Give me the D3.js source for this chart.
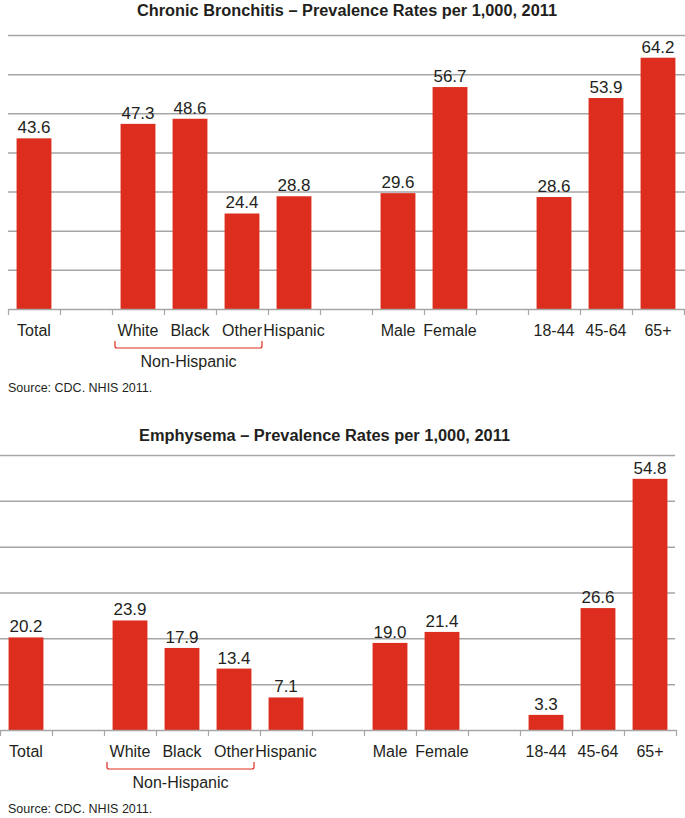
<!DOCTYPE html>
<html>
<head>
<meta charset="utf-8">
<script src="https://cdn.jsdelivr.net/npm/d3@7"></script>
<style>
  html, body { margin: 0; padding: 0; background: #fff; }
  svg { display: block; }
  text { font-family: "Liberation Sans", Arial, Helvetica, sans-serif; fill: #231f20; }
</style>
</head>
<body>
<svg id="chart" width="685" height="818"></svg>
<script>
// ---- DATA ----
const slots = ["Total", "", "White", "Black", "Other", "Hispanic", "", "Male", "Female", "", "18-44", "45-64", "65+"];
const categories = ["Total", "White", "Black", "Other", "Hispanic", "Male", "Female", "18-44", "45-64", "65+"];
const bronchitisValues = [43.6, 47.3, 48.6, 24.4, 28.8, 29.6, 56.7, 28.6, 53.9, 64.2];
const emphysemaValues = [20.2, 23.9, 17.9, 13.4, 7.1, 19.0, 21.4, 3.3, 26.6, 54.8];
const bronchitisTicks = [0, 10, 20, 30, 40, 50, 60, 70];
const emphysemaTicks = [0, 10, 20, 30, 40, 50, 60];
const titles = ["Chronic Bronchitis \u2013 Prevalence Rates per 1,000, 2011", "Emphysema \u2013 Prevalence Rates per 1,000, 2011"];
const bracketLabel = "Non-Hispanic";
const bracketFrom = "White", bracketTo = "Other";
const sourceText = "Source: CDC. NHIS 2011.";

const svg = d3.select("#chart");
const RED = "#dc2d1e";
const GRID = "#a6a6a6";

function drawPanel(cfg) {
  const g = svg.append("g");
  const slotIdx = d3.range(slots.length);
  const x = d3.scaleBand().domain(slotIdx).range([cfg.x0, cfg.x1]).paddingInner(0.33).paddingOuter(0.165);
  const xEdge = d3.scaleLinear().domain([0, slots.length]).range([cfg.x0, cfg.x1]);
  const y = d3.scaleLinear().domain([0, d3.max(cfg.ticks)]).range([cfg.base, cfg.top]);
  const catIndex = c => slots.indexOf(c);

  // title
  g.append("text")
    .attr("x", cfg.titleX).attr("y", cfg.titleY)
    .attr("font-size", 16).attr("font-weight", "bold")
    .attr("textLength", cfg.titleW).attr("lengthAdjust", "spacingAndGlyphs")
    .text(cfg.title);

  // gridlines
  const grid = g.append("g").attr("transform", `translate(${cfg.x0},0)`)
    .call(d3.axisLeft(y).tickValues(cfg.ticks.filter(t => t > 0)).tickSize(-(cfg.gridEnd - cfg.x0)).tickFormat(""));
  grid.select(".domain").remove();
  grid.selectAll(".tick line").attr("stroke", GRID).attr("stroke-width", 1.5);

  // bars
  g.selectAll("rect.bar").data(cfg.values).enter().append("rect")
    .attr("class", "bar")
    .attr("x", (d, i) => x(catIndex(categories[i])))
    .attr("width", x.bandwidth())
    .attr("y", d => y(d))
    .attr("height", d => y(0) - y(d))
    .attr("fill", RED);

  // value labels
  g.selectAll("text.val").data(cfg.values).enter().append("text")
    .attr("class", "val")
    .attr("x", (d, i) => x(catIndex(categories[i])) + x.bandwidth() / 2)
    .attr("y", d => y(d) - 5)
    .attr("text-anchor", "middle").attr("font-size", 17)
    .text(d => d.toFixed(1));

  // x axis with boundary ticks
  const ax = g.append("g").attr("transform", `translate(0,${cfg.base})`)
    .call(d3.axisBottom(xEdge).tickValues(d3.range(slots.length + 1)).tickSizeInner(6).tickSizeOuter(0).tickFormat(""));
  ax.select(".domain").attr("stroke", GRID).attr("stroke-width", 1.5);
  ax.selectAll(".tick line").attr("stroke", GRID).attr("stroke-width", 1.2);

  // category labels
  g.selectAll("text.cat").data(categories).enter().append("text")
    .attr("class", "cat")
    .attr("x", c => x(catIndex(c)) + x.bandwidth() / 2)
    .attr("y", cfg.base + 27)
    .attr("text-anchor", "middle").attr("font-size", 16)
    .text(c => c);

  // bracket
  const bx0 = xEdge(catIndex(bracketFrom)) + 3;
  const bx1 = xEdge(catIndex(bracketTo) + 1) - 6;
  const by0 = cfg.base + 32, by1 = cfg.base + 39, r = 2;
  g.append("path")
    .attr("d", `M${bx0},${by0} V${by1 - r} Q${bx0},${by1} ${bx0 + r},${by1} H${bx1 - r} Q${bx1},${by1} ${bx1},${by1 - r} V${by0}`)
    .attr("fill", "none").attr("stroke", RED).attr("stroke-width", 1.2);
  g.append("text")
    .attr("x", (bx0 + bx1) / 2).attr("y", cfg.base + 58)
    .attr("text-anchor", "middle").attr("font-size", 16)
    .text(bracketLabel);

  // source
  g.append("text")
    .attr("x", cfg.srcX).attr("y", cfg.base + 83)
    .attr("font-size", 12.5)
    .text(sourceText);
}

drawPanel({ title: titles[0], titleX: 137, titleY: 16, titleW: 420, values: bronchitisValues, ticks: bronchitisTicks,
  x0: 8, x1: 684, gridEnd: 685, top: 35, base: 309, srcX: 8 });
drawPanel({ title: titles[1], titleX: 139, titleY: 441, titleW: 371, values: emphysemaValues, ticks: emphysemaTicks,
  x0: 0, x1: 676, gridEnd: 675, top: 455, base: 730, srcX: 8 });
</script>
</body>
</html>
